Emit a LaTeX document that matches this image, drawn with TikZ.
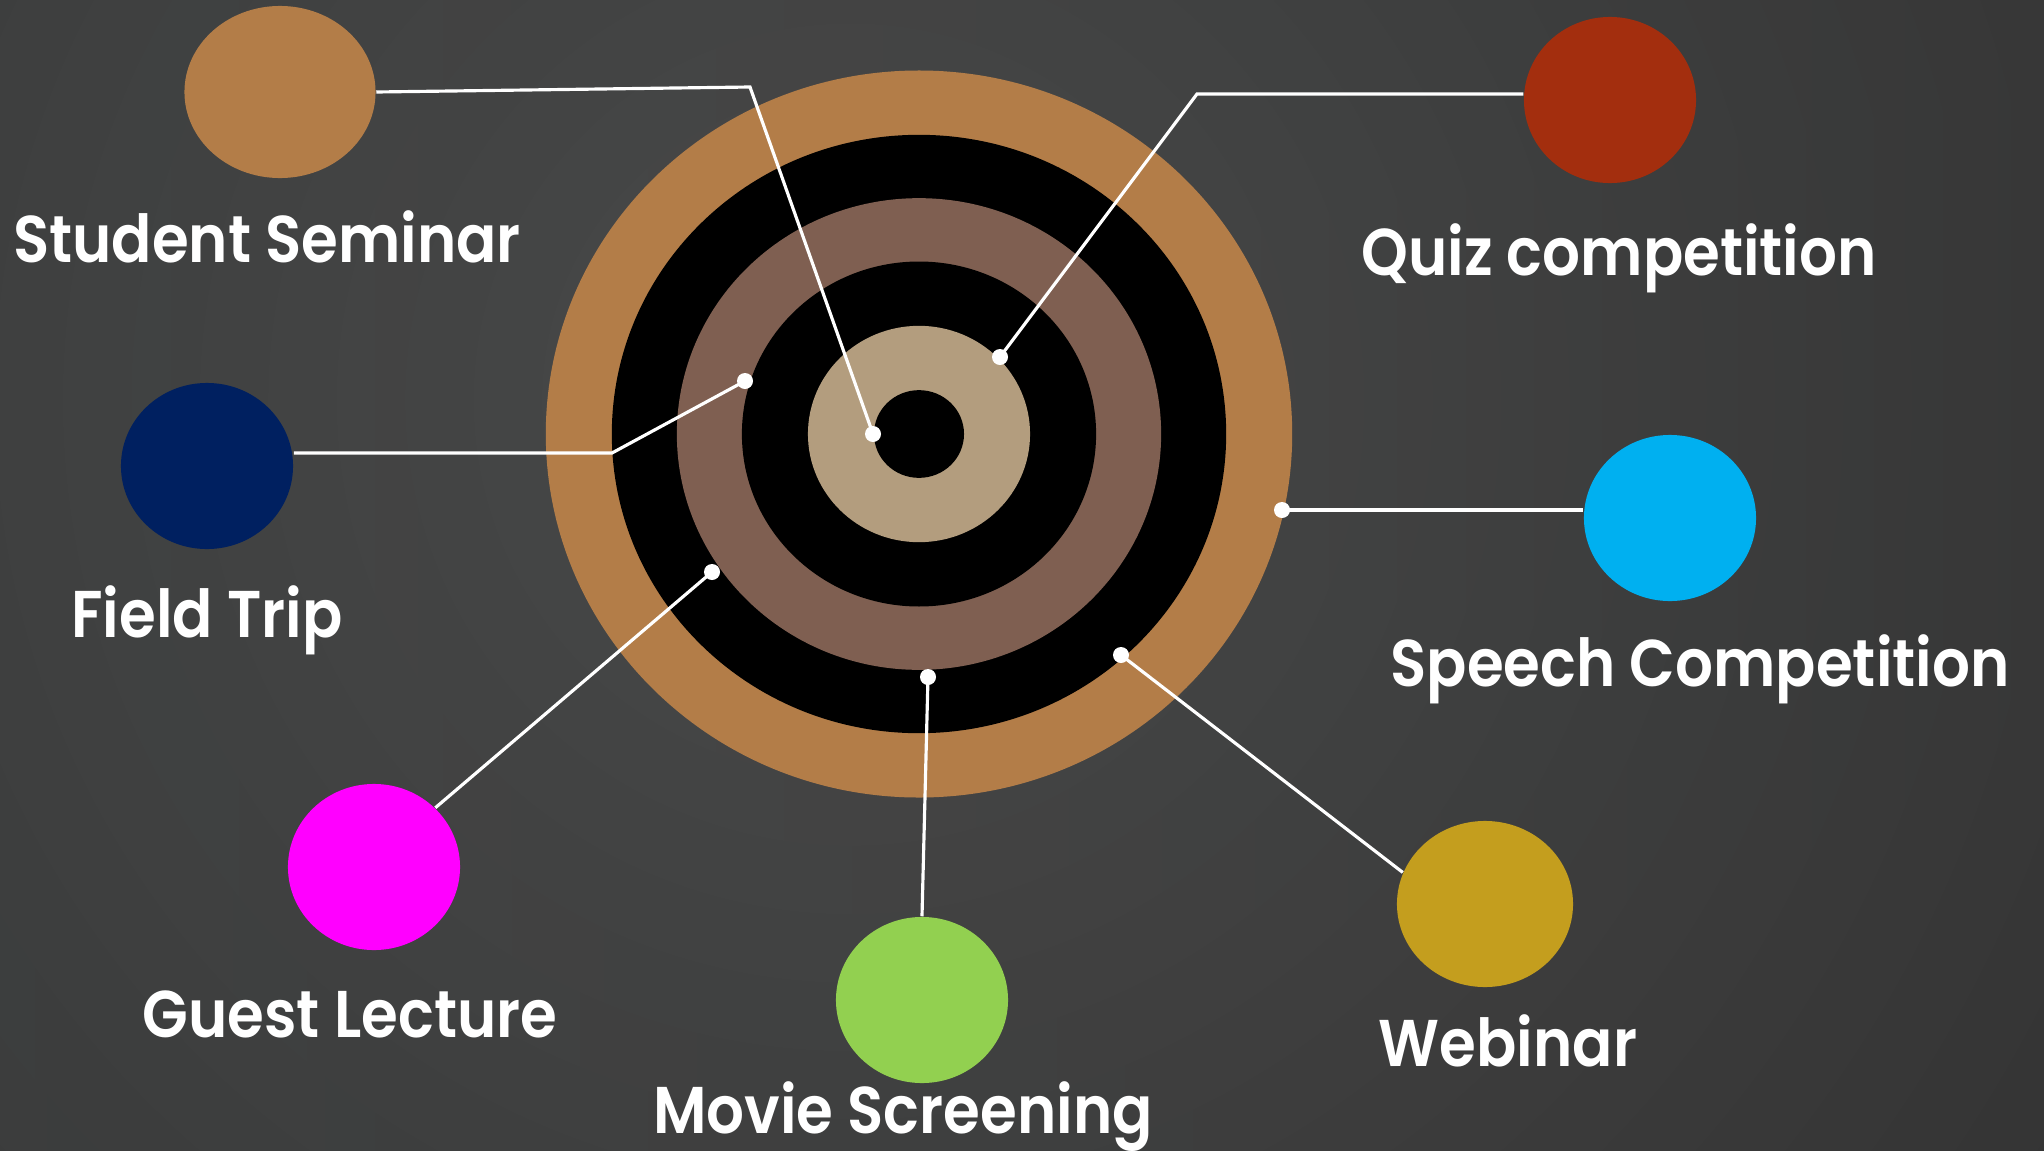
\documentclass[tikz,border=0pt]{standalone}
\usepackage{fontspec}
\setmainfont{Poppins}[BoldFont={* SemiBold}, FakeStretch=0.9]
\usepackage{xcolor}
\definecolor{bglight}{RGB}{76,76,76}
\definecolor{bgdark}{RGB}{38,38,38}
\definecolor{bgteal}{RGB}{60,68,68}
\definecolor{ringtan}{RGB}{179,125,72}
\definecolor{ringbrown}{RGB}{127,95,81}
\definecolor{ringsand}{RGB}{179,157,126}
\definecolor{evquiz}{RGB}{163,46,14}
\definecolor{evfield}{RGB}{0,32,96}
\definecolor{evspeech}{RGB}{0,176,240}
\definecolor{evguest}{RGB}{255,0,255}
\definecolor{evmovie}{RGB}{146,208,80}
\definecolor{evwebinar}{RGB}{196,158,30}
\usetikzlibrary{shapes.geometric, positioning}

\begin{document}
\begin{tikzpicture}[x=0.01cm, y=-0.01cm,
    blob/.style={ellipse, inner sep=0pt, minimum width=1.72cm, minimum height=1.66cm},
    dot/.style={circle, fill=white, inner sep=0pt, minimum size=0.16cm},
    link/.style={draw=white, line width=0.9pt},
    evtext/.style={anchor=base, text=white, font=\bfseries\fontsize{18.8}{20}\selectfont}]
  \useasboundingbox (0,0) rectangle (2044,1151);

  % Background
  \begin{scope}
    \clip (0,0) rectangle (2044,1151);
    \shade[left color=bgteal, right color=bgdark] (0,0) rectangle (2044,1151);
    \shade[inner color=bglight, outer color=bgdark, opacity=0.85] (850,400) circle (26cm);
  \end{scope}

  % Target rings
  \coordinate (target) at (919,434);
  \foreach \r/\c in {3.73/ringtan, 3.07/black, 2.42/ringbrown, 1.77/black, 1.11/ringsand, 0.45/black}
    \fill[\c] (target) ellipse [x radius=\r cm, y radius=0.974*\r cm];

  % Student Seminar
  \node[blob, fill=ringtan, minimum width=1.91cm, minimum height=1.72cm] (ss) at (280,92) {};
  \coordinate (ssbend) at (750,87);
  \node[dot] (ssdot) at (873,434) {};
  \draw[link] (ss.east) -- (ssbend) -- (ssdot.center);
  \node[evtext] (sstext) at (267,262) {Student Seminar};

  % Quiz competition
  \node[blob, fill=evquiz] (qz) at (1610,100) {};
  \coordinate (qzbend) at (1197,94);
  \node[dot] (qzdot) at (1000,357) {};
  \draw[link] (qzdot.center) -- (qzbend) -- (qzbend -| qz.west);
  \node[evtext] (qztext) at (1619,275) {Quiz competition};

  % Field Trip
  \node[blob, fill=evfield] (ft) at (207,466) {};
  \coordinate (ftbend) at (612,453);
  \node[dot] (ftdot) at (745,381) {};
  \draw[link] (ftbend -| ft.east) -- (ftbend) -- (ftdot.center);
  \node[evtext] (fttext) at (207,637) {Field Trip};

  % Speech Competition
  \node[blob, fill=evspeech] (sp) at (1670,518) {};
  \node[dot] (spdot) at (1282,510) {};
  \draw[link] (spdot.center) -- (spdot -| sp.west);
  \node[evtext] (sptext) at (1700,686) {Speech Competition};

  % Guest Lecture
  \node[blob, fill=evguest] (gl) at (374,867) {};
  \node[dot] (gldot) at (712,572) {};
  \draw[link] (gl.44) -- (gldot.center);
  \node[evtext] (gltext) at (350,1037) {Guest Lecture};

  % Movie Screening
  \node[blob, fill=evmovie] (mv) at (922,1000) {};
  \node[dot] (mvdot) at (928,677) {};
  \draw[link] (mv.north) -- (mvdot.center);
  \node[evtext] (mvtext) at (903,1133) {Movie Screening};

  % Webinar
  \node[blob, fill=evwebinar, minimum width=1.76cm] (wb) at (1485,904) {};
  \node[dot] (wbdot) at (1121,655) {};
  \draw[link] (wb.159) -- (wbdot.center);
  \node[evtext] (wbtext) at (1508,1066) {Webinar};
\end{tikzpicture}
\end{document}
